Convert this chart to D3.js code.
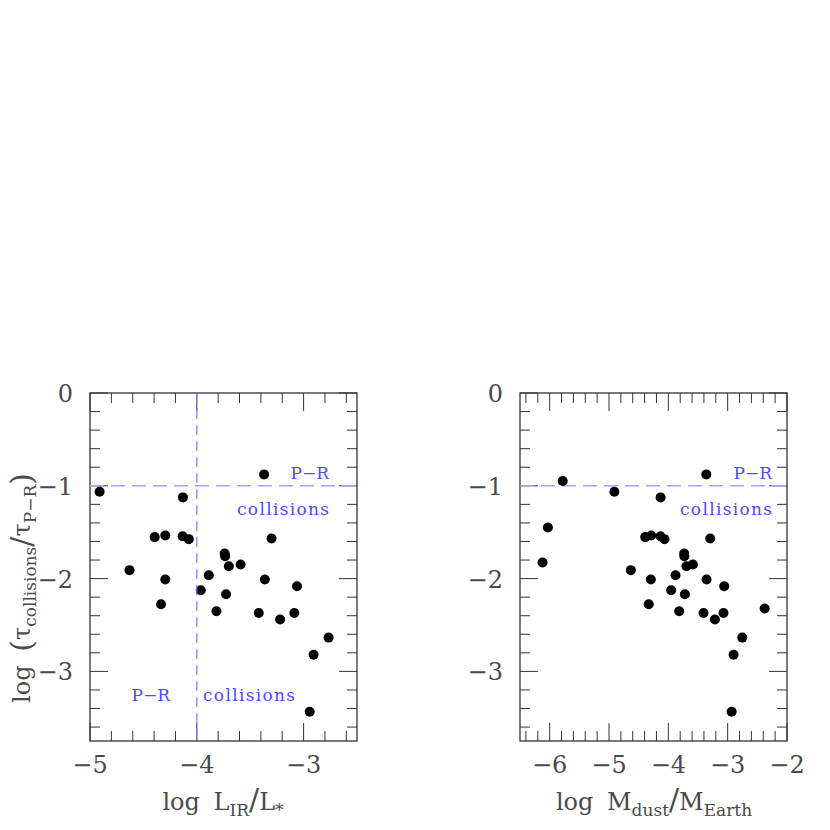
<!DOCTYPE html>
<html><head><meta charset="utf-8">
<script src="https://cdn.jsdelivr.net/npm/d3@7"></script>
<style>body{margin:0;background:#fff}</style>
</head><body>
<svg id="c" width="830" height="830" xmlns="http://www.w3.org/2000/svg"></svg>
<script>
// ---- data ----
const logTau = [-0.877,-0.949,-1.065,-1.125,-1.449,-1.535,-1.543,-1.553,-1.568,-1.575,
  -1.73,-1.76,-1.826,-1.848,-1.866,-1.909,-1.963,-2.01,-2.01,-2.082,
  -2.125,-2.168,-2.276,-2.323,-2.352,-2.37,-2.37,-2.44,-2.636,-2.82,-3.434];
const logLIR = [-3.37,null,-4.91,-4.13,null,-4.295,-4.133,-4.394,-3.30,-4.075,
  -3.739,-3.735,null,-3.59,-3.70,-4.63,-3.888,-4.295,-3.363,-3.062,
  -3.963,-3.726,-4.335,null,-3.816,-3.42,-3.087,-3.22,-2.766,-2.906,-2.943];
const logMdust = [-3.36,-5.78,-4.91,-4.13,-6.03,-4.29,-4.132,-4.39,-3.294,-4.065,
  -3.733,-3.73,-6.12,-3.586,-3.694,-4.632,-3.879,-4.295,-3.356,-3.058,
  -3.952,-3.721,-4.33,-2.377,-3.817,-3.407,-3.07,-3.215,-2.754,-2.9,-2.933];
const yTickLabels = [0,-1,-2,-3];
const xTickLabelsL = [-5,-4,-3];
const xTickLabelsR = [-6,-5,-4,-3,-2];
const tauThreshold = -1;
const lirThreshold = -4;

const svg = d3.select("#c");
const yTop = 393, yBot = 741;
const y = d3.scaleLinear().domain([-3.75, 0]).range([yBot, yTop]);
const xL = d3.scaleLinear().domain([-5, -2.5]).range([90, 357]);
const xR = d3.scaleLinear().domain([-6.5, -2]).range([520, 787]);

const frameColor = "#333";
const labelColor = "#4a4a4a";
const blue = "#4b4bff";
const serif = "'DejaVu Serif','Liberation Serif',serif";
const fmt = v => (v < 0 ? "\u2212" : "") + Math.abs(v);

function panel(x, xs, xlabels, labelInset) {
  const g = svg.append("g");
  const [x0, x1] = x.range();
  const [d0, d1] = x.domain();
  const minorX = d3.range(Math.ceil(d0 * 5), Math.floor(d1 * 5) + 1).map(v => v / 5)
    .filter(v => Math.abs(v - Math.round(v)) > 1e-6);
  const majorX = d3.range(Math.ceil(d0), Math.floor(d1) + 1);
  const minorY = d3.range(-18, 1).map(v => v / 5).filter(v => Math.abs(v - Math.round(v)) > 1e-6);
  const majorY = [0, -1, -2, -3];
  const tk = (data, fn) => g.append("g").selectAll("line").data(data).join("line")
    .attr("stroke", frameColor).attr("stroke-width", 1).each(fn);
  tk(minorX, function (d) { d3.select(this).attr("x1", x(d)).attr("x2", x(d)).attr("y1", yBot).attr("y2", yBot - 10); });
  tk(majorX, function (d) { d3.select(this).attr("x1", x(d)).attr("x2", x(d)).attr("y1", yBot).attr("y2", yBot - 18); });
  tk(minorX, function (d) { d3.select(this).attr("x1", x(d)).attr("x2", x(d)).attr("y1", yTop).attr("y2", yTop + 10); });
  tk(majorX, function (d) { d3.select(this).attr("x1", x(d)).attr("x2", x(d)).attr("y1", yTop).attr("y2", yTop + 18); });
  tk(minorY, function (d) { d3.select(this).attr("y1", y(d)).attr("y2", y(d)).attr("x1", x0).attr("x2", x0 + 10); });
  tk(majorY, function (d) { d3.select(this).attr("y1", y(d)).attr("y2", y(d)).attr("x1", x0).attr("x2", x0 + 18); });
  tk(minorY, function (d) { d3.select(this).attr("y1", y(d)).attr("y2", y(d)).attr("x1", x1).attr("x2", x1 - 10); });
  tk(majorY, function (d) { d3.select(this).attr("y1", y(d)).attr("y2", y(d)).attr("x1", x1).attr("x2", x1 - 18); });
  g.append("rect").attr("x", x0).attr("y", yTop).attr("width", x1 - x0).attr("height", yBot - yTop)
    .attr("fill", "none").attr("stroke", frameColor).attr("stroke-width", 1.3);
  g.append("g").selectAll("text").data(xlabels).join("text")
    .attr("x", d => x(d)).attr("y", 773).attr("text-anchor", "middle")
    .attr("font-family", serif).attr("font-size", 24).attr("fill", labelColor)
    .text(fmt);
  g.append("g").selectAll("text").data(yTickLabels).join("text")
    .attr("x", x0 - 17).attr("y", d => y(d) + 9).attr("text-anchor", "end")
    .attr("font-family", serif).attr("font-size", 24).attr("fill", labelColor)
    .text(fmt);
  g.append("line").attr("x1", x0).attr("x2", x1).attr("y1", y(tauThreshold)).attr("y2", y(tauThreshold))
    .attr("stroke", "#9fa3f7").attr("stroke-width", 1.6).attr("stroke-dasharray", "14,7");
  g.append("g").selectAll("circle").data(logTau.map((t, i) => [xs[i], t]).filter(d => d[0] != null))
    .join("circle").attr("cx", d => x(d[0])).attr("cy", d => y(d[1])).attr("r", 5).attr("fill", "#000");
  g.append("text").attr("x", x1 - labelInset).attr("y", 479).attr("text-anchor", "end")
    .attr("font-family", serif).attr("font-size", 17).attr("fill", blue).text("P\u2212R");
  g.append("text").attr("x", x1 - labelInset).attr("y", 515).attr("text-anchor", "end")
    .attr("font-family", serif).attr("font-size", 17).attr("fill", blue)
    .attr("textLength", 92).attr("lengthAdjust", "spacing").text("collisions");
  return g;
}

const gL = panel(xL, logLIR, xTickLabelsL, 28);
const gR = panel(xR, logMdust, xTickLabelsR, 15);

gL.append("line").attr("x1", xL(lirThreshold)).attr("x2", xL(lirThreshold)).attr("y1", yTop).attr("y2", yBot)
  .attr("stroke", "#7b7bff").attr("stroke-width", 1.2).attr("stroke-dasharray", "10,6");
gL.append("text").attr("x", 170).attr("y", 701).attr("text-anchor", "end")
  .attr("font-family", serif).attr("font-size", 17).attr("fill", blue).text("P\u2212R");
gL.append("text").attr("x", 203).attr("y", 701).attr("text-anchor", "start")
  .attr("font-family", serif).attr("font-size", 17).attr("fill", blue)
  .attr("textLength", 92).attr("lengthAdjust", "spacing").text("collisions");

function xTitle(cx, main, sub1, main2, sub2) {
  const t = svg.append("text").attr("x", cx).attr("y", 810).attr("text-anchor", "middle")
    .attr("font-family", serif).attr("font-size", 24).attr("fill", labelColor);
  t.append("tspan").text("log ");
  t.append("tspan").attr("dx", 6).text(main);
  t.append("tspan").attr("font-size", 17).attr("dy", 6).text(sub1);
  t.append("tspan").attr("dy", -6).attr("font-size", 30).text("/");
  t.append("tspan").text(main2);
  t.append("tspan").attr("font-size", 17).attr("dy", 6).text(sub2);
}
xTitle(223, "L", "IR", "L", "*");
xTitle(654, "M", "dust", "M", "Earth");

const yt = svg.append("text").attr("transform", "translate(30,588) rotate(-90)")
  .attr("text-anchor", "middle").attr("font-family", serif).attr("font-size", 24).attr("fill", labelColor);
yt.append("tspan").text("log ");
yt.append("tspan").attr("dx", 6).attr("font-size", 30).attr("dy", 2).text("(");
yt.append("tspan").attr("dy", -2).text("\u03c4");
yt.append("tspan").attr("font-size", 17).attr("dy", 6).text("collisions");
yt.append("tspan").attr("dy", -4).attr("font-size", 30).text("/");
yt.append("tspan").attr("dy", -2).text("\u03c4");
yt.append("tspan").attr("font-size", 17).attr("dy", 6).text("P\u2212R");
yt.append("tspan").attr("dy", -4).attr("font-size", 30).text(")");
</script>
</body></html>
